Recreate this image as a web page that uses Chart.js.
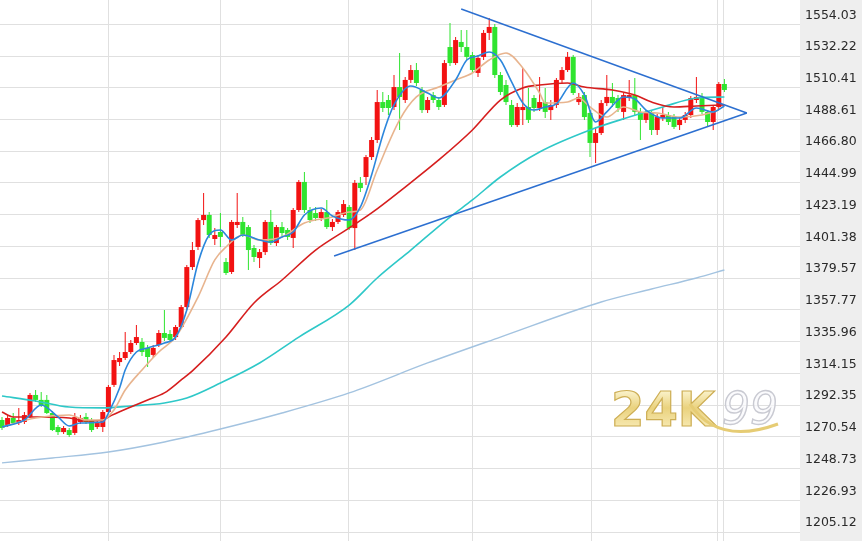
<!DOCTYPE html>
<html><head><meta charset="utf-8">
<script src="https://cdn.jsdelivr.net/npm/chart.js@4/dist/chart.umd.min.js"></script>
<style>html,body{margin:0;padding:0;background:#fff;overflow:hidden}#wrap{width:862px;height:541px}</style>
</head><body><div id="wrap"><canvas id="c" width="862" height="541"></canvas></div>
<script>
// Daily candles (index 0 .. 129)
const opens = [1282.1,1278.7,1283.5,1280.0,1280.7,1284.2,1299.3,1295.9,1295.9,1286.9,1277.3,1273.8,1275.2,1273.2,1280.7,1284.2,1282.1,1277.3,1277.3,1287.6,
1306.2,1321.9,1324.7,1328.8,1335.0,1335.7,1331.6,1326.8,1333.6,1341.9,1341.2,1339.1,1346.0,1359.7,1387.2,1401.0,1419.5,1423.0,1406.5,1411.3,
1390.7,1383.8,1416.1,1418.2,1414.7,1400.3,1393.4,1397.5,1418.2,1403.7,1414.7,1412.7,1407.2,1426.4,1445.7,1426.4,1424.3,1420.9,1425.0,1414.7,
1418.2,1423.0,1428.5,1414.0,1445.0,1449.1,1462.8,1474.5,1500.6,1502.0,1497.2,1510.9,1502.0,1515.8,1522.6,1508.9,1495.1,1505.4,1502.0,1498.6,
1538.4,1527.4,1541.9,1538.4,1532.9,1520.6,1531.6,1548.1,1552.2,1519.2,1512.3,1498.6,1484.8,1495.1,1497.2,1503.4,1496.5,1500.6,1495.1,1498.6,
1515.8,1522.6,1531.6,1500.6,1505.4,1493.1,1472.5,1479.3,1499.9,1504.1,1503.4,1493.8,1503.4,1505.4,1493.8,1488.3,1493.1,1481.4,1489.6,1491.7,
1490.3,1484.8,1488.3,1491.7,1502.0,1504.1,1493.8,1486.9,1497.2,1513.0];
const highs = [1284.2,1285.5,1286.9,1290.4,1287.6,1300.7,1302.7,1301.3,1299.3,1288.3,1278.7,1278.0,1276.6,1286.9,1285.5,1286.9,1283.5,1282.1,1289.0,1306.2,
1326.8,1328.8,1342.6,1337.1,1347.4,1338.4,1333.6,1333.6,1344.0,1357.7,1344.0,1347.4,1361.1,1388.6,1404.4,1420.9,1438.1,1425.0,1414.0,1424.3,
1393.4,1419.5,1438.1,1421.6,1416.1,1402.4,1399.6,1419.5,1426.4,1416.1,1418.2,1414.0,1427.8,1447.0,1452.5,1428.5,1428.5,1427.1,1433.3,1420.2,
1426.4,1433.3,1429.8,1447.0,1449.1,1464.2,1476.6,1508.9,1507.5,1505.4,1519.2,1534.3,1517.8,1526.1,1527.4,1510.9,1504.1,1507.5,1504.1,1529.5,
1554.9,1545.3,1550.1,1550.1,1535.0,1532.9,1550.1,1558.4,1554.2,1521.3,1515.8,1502.0,1499.9,1524.0,1510.3,1505.4,1517.8,1510.3,1502.0,1517.1,
1524.7,1535.0,1532.9,1506.8,1507.5,1495.1,1483.5,1502.0,1519.2,1513.7,1505.4,1506.8,1515.8,1517.1,1496.5,1495.1,1495.1,1492.4,1497.2,1493.8,
1492.4,1490.3,1493.8,1504.8,1517.8,1506.8,1495.1,1498.6,1514.4,1516.4];
const lows = [1275.2,1277.3,1278.7,1278.7,1279.4,1283.5,1294.5,1291.0,1286.2,1274.5,1271.8,1272.5,1270.4,1271.8,1279.4,1279.4,1273.8,1275.9,1273.8,1286.9,
1304.8,1319.2,1323.3,1327.5,1333.6,1326.1,1318.5,1324.7,1332.3,1336.4,1335.0,1337.1,1344.6,1357.7,1385.2,1398.9,1416.1,1407.2,1402.4,1401.0,
1381.7,1382.4,1414.0,1407.9,1385.2,1390.7,1386.6,1395.5,1402.4,1401.7,1408.5,1405.8,1400.3,1425.0,1424.3,1417.5,1418.9,1418.9,1413.4,1412.0,
1416.8,1421.6,1412.7,1398.9,1438.8,1443.6,1460.8,1472.5,1493.8,1491.7,1495.1,1481.4,1499.9,1513.7,1511.6,1493.1,1493.1,1499.9,1495.1,1497.2,
1525.4,1526.1,1535.0,1529.5,1520.6,1517.8,1529.5,1543.2,1517.1,1505.4,1498.6,1483.5,1483.5,1484.8,1486.2,1493.8,1494.4,1489.6,1488.3,1496.5,
1513.7,1521.3,1505.4,1498.6,1488.3,1462.8,1458.7,1477.9,1497.9,1497.2,1493.8,1488.3,1501.3,1491.7,1474.5,1486.2,1477.9,1477.9,1487.6,1484.8,
1482.1,1481.4,1486.2,1489.6,1499.9,1492.4,1484.1,1481.4,1495.8,1507.5];
const closes = [1276.6,1283.5,1280.0,1282.1,1285.5,1299.3,1295.9,1292.4,1286.9,1275.2,1273.8,1276.6,1271.8,1284.2,1283.5,1280.7,1275.2,1280.0,1287.6,1304.8,
1323.3,1324.7,1328.8,1335.0,1339.1,1328.8,1325.4,1331.6,1341.9,1338.5,1337.1,1346.0,1359.7,1387.2,1398.9,1419.5,1423.0,1409.2,1409.2,1407.9,
1383.1,1418.2,1418.2,1409.2,1398.9,1394.1,1397.5,1418.2,1403.7,1414.7,1410.6,1407.9,1426.4,1445.7,1426.4,1419.5,1420.9,1425.0,1414.7,1418.2,
1425.0,1430.5,1414.0,1445.0,1441.5,1462.8,1474.5,1500.6,1496.5,1496.5,1510.9,1504.1,1515.8,1522.6,1513.7,1495.1,1502.0,1502.0,1497.2,1527.4,
1527.4,1543.2,1538.4,1531.6,1522.6,1530.9,1548.1,1552.2,1519.2,1507.5,1500.6,1484.8,1497.2,1497.2,1488.3,1496.5,1500.6,1493.8,1498.6,1515.8,
1522.6,1531.6,1506.8,1504.1,1490.3,1472.5,1479.3,1499.9,1504.1,1499.9,1496.5,1505.4,1505.4,1493.8,1488.3,1493.1,1481.4,1490.3,1491.7,1486.9,
1483.5,1488.3,1491.7,1503.4,1504.1,1493.8,1486.9,1497.2,1513.0,1508.9];

// Moving-average lines as [index, value]
const ma5 = [[0,1277.3],[4,1282.1],[7,1292.4],[10,1284.2],[12,1278.0],[14,1280.0],[18,1280.7],[19,1286.9],[21,1304.1],[22,1316.5],[24,1328.8],[26,1331.6],[29,1335.0],[31,1339.1],[33,1357.7],[35,1390.0],[37,1409.2],[39,1412.7],[41,1405.8],[43,1409.2],[46,1405.8],[48,1404.4],[50,1407.9],[52,1411.3],[54,1423.0],[57,1427.8],[59,1422.3],[62,1419.5],[64,1428.5],[66,1450.5],[68,1478.0],[70,1498.6],[73,1511.6],[76,1506.8],[78,1503.4],[81,1515.8],[83,1529.5],[85,1532.2],[87,1535.0],[89,1529.5],[91,1514.4],[93,1500.0],[95,1495.1],[97,1497.2],[99,1499.3],[102,1513.7],[104,1505.5],[106,1486.9],[108,1493.8],[111,1504.1],[113,1502.7],[115,1495.1],[118,1489.6],[121,1489.6],[124,1496.5],[127,1493.8],[129,1497.9]];
const ma10 = [[0,1277.3],[6,1283.5],[12,1285.5],[15,1282.1],[18,1282.1],[20,1289.0],[22,1302.7],[25,1316.5],[28,1328.8],[31,1339.1],[35,1366.6],[38,1392.1],[40,1401.0],[43,1409.2],[46,1405.8],[50,1407.9],[54,1417.5],[59,1421.6],[62,1425.0],[64,1426.4],[67,1453.9],[71,1488.3],[74,1504.1],[78,1510.9],[81,1515.8],[84,1520.6],[87,1529.5],[90,1534.3],[93,1524.0],[96,1506.8],[97,1499.9],[101,1500.6],[103,1503.4],[105,1497.2],[108,1490.3],[111,1497.2],[114,1493.8],[117,1493.1],[121,1490.3],[125,1491.7],[128,1495.1]];
const ma20 = [[0,1287.6],[2,1284.2],[6,1284.2],[12,1283.5],[15,1281.4],[18,1282.1],[19,1284.2],[23,1291.0],[26,1295.9],[29,1300.7],[32,1309.6],[34,1315.8],[40,1339.1],[45,1362.5],[50,1378.3],[56,1398.9],[62,1414.1],[66,1424.4],[72,1442.2],[78,1460.8],[84,1481.4],[89,1502.0],[93,1510.3],[96,1512.3],[101,1513.7],[104,1510.9],[109,1508.9],[113,1505.5],[116,1500.6],[120,1497.2],[124,1497.9],[129,1498.6]];
const ma60 = [[0,1298.6],[6,1295.2],[12,1291.0],[18,1290.4],[23,1291.7],[29,1293.8],[33,1297.2],[39,1307.5],[46,1321.3],[53,1339.1],[62,1361.1],[67,1379.7],[73,1398.9],[80,1421.6],[84,1433.3],[89,1449.1],[96,1466.3],[105,1481.4],[112,1490.3],[118,1497.2],[124,1503.4],[129,1504.1]];
const ma120 = [[0,1252.6],[9,1256.0],[19,1260.1],[29,1267.0],[39,1275.9],[50,1286.9],[62,1300.7],[76,1321.3],[89,1339.1],[107,1363.2],[116,1372.1],[124,1379.7],[129,1385.2]];

// Triangle trend lines [index, value]
const trendUpper = [[82.0,1564.5],[133.0,1493.1]];
const trendLower = [[59.3,1394.8],[133.0,1493.1]];

// Axis ticks
const yTicks = [1205.12,1226.93,1248.73,1270.54,1292.35,1314.15,1335.96,1357.77,1379.57,1401.38,1423.19,1444.99,1466.80,1488.61,1510.41,1532.22,1554.03];
const monthLines = [18.93,38.93,61.96,84.02,105.18,127.68,128.75];

const UP = '#f21212', DOWN = '#2fe42f';
const colors = opens.map((o,i)=> closes[i] >= o ? UP : DOWN);
const toXY = arr => arr.map(p => ({x:p[0], y:p[1]}));
const lineDs = (data, color, order, w, smooth) => ({
  type:'line', data: toXY(data), borderColor: color, borderWidth: w, pointRadius: 0,
  fill: false, order, cubicInterpolationMode: smooth ? 'monotone' : 'default', tension: 0
});

const bgPlugin = {
  id:'bg',
  beforeDraw(chart){
    const {ctx, chartArea} = chart;
    ctx.save();
    ctx.fillStyle = '#ffffff';
    ctx.fillRect(0,0,chart.width,chart.height);
    ctx.fillStyle = '#eeeeee';
    ctx.fillRect(chartArea.right,0,chart.width-chartArea.right,chart.height);
    ctx.restore();
  }
};
const markPlugin = {
  id:'mark',
  beforeDatasetsDraw(chart){
    const ctx = chart.ctx;
    ctx.save();
    ctx.font = 'bold 48px "DejaVu Sans"';
    const g = ctx.createLinearGradient(0,390,0,426);
    g.addColorStop(0,'#fbf4cf'); g.addColorStop(0.5,'#ead27e'); g.addColorStop(1,'#f6e7ad');
    ctx.fillStyle = g;
    ctx.fillText('24K', 611, 426);
    ctx.lineWidth = 1.2; ctx.strokeStyle = '#cdae55';
    ctx.strokeText('24K', 611, 426);
    ctx.font = 'italic 44px "DejaVu Sans"';
    ctx.fillStyle = 'rgba(250,250,252,0.7)';
    ctx.fillText('99', 722, 424);
    ctx.lineWidth = 1.4; ctx.strokeStyle = '#c9cad2';
    ctx.strokeText('99', 722, 424);
    ctx.beginPath();
    ctx.moveTo(690, 404);
    ctx.quadraticCurveTo(718, 446, 778, 424);
    ctx.strokeStyle = '#e6cc74'; ctx.lineWidth = 3;
    ctx.stroke();
    ctx.restore();
  }
};

new Chart(document.getElementById('c'), {
  type:'bar',
  data:{
    datasets:[
      lineDs(trendUpper,'#2c6fd0',0,1.5,false),
      lineDs(trendLower,'#2c6fd0',0,1.5,false),
      lineDs(ma5,'#2b86dc',1,1.6,true),
      lineDs(ma10,'#e8b48e',2,1.6,true),
      lineDs(ma20,'#d61e1e',3,1.6,true),
      lineDs(ma60,'#2ec8c8',4,1.6,true),
      lineDs(ma120,'#a3c3e0',5,1.4,true),
      { type:'bar', data: opens.map((o,i)=>({x:i, y:[o, closes[i]]})), backgroundColor: colors,
        barThickness: 5, grouped:false, borderWidth:0, borderSkipped:false, minBarLength:1, order:6, inflateAmount:0 },
      { type:'bar', data: opens.map((o,i)=>({x:i, y:[lows[i], highs[i]]})), backgroundColor: colors,
        barThickness: 1, grouped:false, borderWidth:0, borderSkipped:false, order:7, inflateAmount:0 }
    ]
  },
  options:{
    responsive:false, animation:false, devicePixelRatio:1,
    layout:{padding:0},
    plugins:{legend:{display:false}, tooltip:{enabled:false}},
    scales:{
      x:{ type:'linear', min:-2/5.6, max:798/5.6, offset:false,
          grid:{color:'#e0e0e0', drawTicks:false, offset:false},
          border:{display:false},
          ticks:{display:false},
          afterBuildTicks: s => { s.ticks = monthLines.map(v=>({value:v})); },
          afterFit: s => { s.height = 0; s.paddingLeft = 0; s.paddingRight = 0; }
      },
      y:{ type:'linear', position:'right', min:1198.94, max:1570.73,
          grid:{color:'#e0e0e0', drawTicks:false},
          border:{display:false},
          ticks:{ autoSkip:false, color:'#2a2a2a', padding:5, labelOffset:-9,
                  font:{family:'"DejaVu Sans", Verdana, sans-serif', size:12.5},
                  callback: v => Number(v).toFixed(2) },
          afterBuildTicks: s => { s.ticks = yTicks.map(v=>({value:v})); },
          afterFit: s => { s.width = 62; s.paddingTop = 0; s.paddingBottom = 0; }
      }
    }
  },
  plugins:[bgPlugin, markPlugin]
});
</script>
</body></html>
